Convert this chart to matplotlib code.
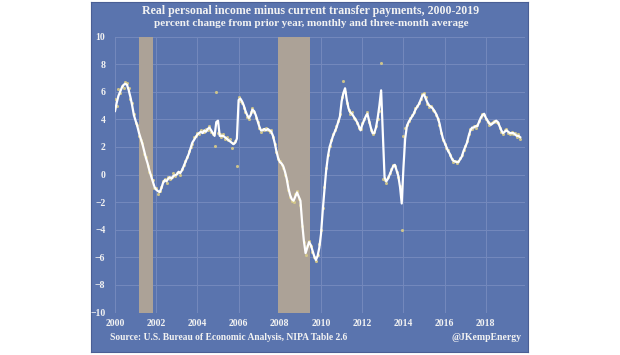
import matplotlib
matplotlib.use("Agg")
import matplotlib.pyplot as plt
import numpy as np

# ---------------- data ----------------
start_year = 2000
# three-month average (white line), monthly from Jan 2000
avg_3m = [
    4.6, 5.2, 5.7, 6.0, 6.3, 6.5, 6.57, 6.5, 6.1, 5.6, 5.0, 4.3,          # 2000
    3.9, 3.5, 3.0, 2.6, 2.2, 1.7, 1.2, 0.8, 0.3, -0.1, -0.5, -0.9,       # 2001
    -1.1, -1.2, -1.28, -1.0, -0.6, -0.4, -0.5, -0.3, -0.2, -0.3, -0.1, -0.05,  # 2002
    0.0, 0.2, 0.1, 0.3, 0.6, 0.9, 1.2, 1.5, 1.9, 2.3, 2.5, 2.7,          # 2003
    2.9, 3.0, 3.1, 3.0, 3.2, 3.1, 3.3, 3.4, 3.2, 3.0, 2.8, 3.8,          # 2004
    3.9, 2.8, 2.8, 2.8, 2.7, 2.6, 2.5, 2.4, 2.3, 2.2, 2.3, 2.6,          # 2005
    5.4, 5.5, 5.3, 5.0, 4.6, 4.3, 4.1, 4.3, 4.7, 4.6, 4.3, 3.9,          # 2006
    3.5, 3.2, 3.2, 3.3, 3.2, 3.3, 3.2, 3.1, 2.8, 2.3, 1.7, 1.2,          # 2007
    0.9, 0.8, 0.6, 0.2, -0.3, -1.0, -1.5, -1.8, -1.9, -1.6, -1.3, -1.6,  # 2008
    -1.9, -3.5, -4.8, -5.7, -5.3, -4.9, -5.1, -5.5, -5.9, -6.2, -5.9, -5.3,  # 2009
    -4.3, -2.6, -1.1, 0.3, 1.3, 2.0, 2.4, 2.8, 3.1, 3.4, 3.8, 4.2,       # 2010
    5.3, 5.9, 6.25, 5.4, 4.8, 4.5, 4.4, 4.2, 4.0, 3.8, 3.5, 3.2,         # 2011
    3.6, 3.9, 4.2, 4.4, 3.9, 3.4, 3.0, 3.0, 3.4, 4.1, 5.0, 6.1,          # 2012
    3.0, -0.2, -0.5, -0.3, 0.0, 0.3, 0.6, 0.7, 0.3, -0.1, -0.9, -2.1,    # 2013
    0.5, 2.6, 3.5, 3.8, 4.0, 4.2, 4.4, 4.7, 4.9, 5.1, 5.4, 5.7,          # 2014
    5.8, 5.5, 5.2, 5.0, 4.9, 4.8, 4.6, 4.4, 4.1, 3.7, 3.1, 2.6,          # 2015
    2.3, 2.0, 1.7, 1.5, 1.2, 1.0, 0.95, 0.9, 0.9, 1.1, 1.3, 1.7,         # 2016
    2.0, 2.3, 2.8, 3.2, 3.4, 3.4, 3.5, 3.5, 3.8, 4.1, 4.3, 4.4,          # 2017
    4.1, 3.9, 3.7, 3.6, 3.7, 3.8, 3.9, 3.8, 3.5, 3.2, 3.0, 3.1,          # 2018
    3.2, 3.1, 3.0, 3.0, 3.0, 2.9, 2.8, 2.8, 2.7,                         # 2019
]
# monthly values (dots)
monthly = [
    5.5, 5.0, 6.2, 5.9, 6.4, 6.3, 6.7, 6.6, 6.3, 5.5, 5.2, 4.4,
    3.7, 3.6, 2.8, 2.5, 2.3, 1.5, 1.3, 0.6, 0.2, 0.0, -0.4, -1.0,
    -1.0, -1.4, -1.2, -0.9, -0.5, -0.3, -0.6, -0.2, -0.3, -0.2, 0.1, -0.1,
    0.1, 0.2, 0.0, 0.4, 0.7, 1.0, 1.3, 1.7, 2.0, 2.2, 2.7, 2.8,
    3.0, 2.9, 3.2, 3.1, 3.1, 3.3, 3.2, 3.5, 3.1, 2.9, 2.1, 6.0,
    3.0, 2.9, 2.7, 2.9, 2.6, 2.7, 2.5, 2.6, 1.9, 2.3, 2.4, 0.6,
    5.6, 5.3, 5.2, 4.8, 4.5, 4.2, 4.0, 4.5, 4.8, 4.5, 4.1, 3.8,
    3.4, 3.1, 3.3, 3.2, 3.4, 3.2, 3.1, 3.2, 2.7, 2.2, 1.6, 1.1,
    1.0, 0.7, 0.5, 0.0, -0.5, -1.1, -1.6, -1.9, -2.0, -1.4, -1.2, -1.8,
    -2.2, -3.7, -4.9, -5.8, -5.2, -4.8, -5.2, -5.6, -6.0, -6.3, -5.8, -5.0,
    -4.0, -2.4, -0.9, 0.5, 1.4, 2.1, 2.5, 2.9, 3.2, 3.5, 3.9, 4.4,
    5.6, 6.8, 6.0, 5.2, 4.7, 4.4, 4.5, 4.1, 4.0, 3.7, 3.4, 3.3,
    3.7, 4.0, 4.3, 4.5, 3.8, 3.2, 2.9, 3.1, 3.5, 4.0, 4.6, 8.1,
    -0.3, -0.4, -0.6, -0.2, 0.1, 0.4, 0.7, 0.6, 0.2, -0.2, -0.8, -4.0,
    2.8, 3.4, 3.6, 3.9, 4.1, 4.3, 4.5, 4.8, 5.0, 5.2, 5.5, 5.8,
    5.9, 5.6, 5.1, 4.9, 5.0, 4.7, 4.6, 4.3, 4.0, 3.6, 3.0, 2.5,
    2.2, 1.9, 1.8, 1.4, 1.1, 0.9, 1.0, 0.8, 1.0, 1.2, 1.4, 1.8,
    2.1, 2.4, 2.9, 3.3, 3.3, 3.5, 3.4, 3.6, 3.9, 4.2, 4.4, 4.3,
    4.0, 3.8, 3.6, 3.7, 3.8, 3.9, 3.8, 3.7, 3.4, 3.1, 2.9, 3.2,
    3.3, 3.0, 2.9, 3.1, 2.9, 3.0, 2.7, 2.9, 2.6,
]
recessions = [(2001.17, 2001.85), (2007.92, 2009.45)]
x_ticks = [2000, 2002, 2004, 2006, 2008, 2010, 2012, 2014, 2016, 2018]
y_ticks = [-10, -8, -6, -4, -2, 0, 2, 4, 6, 8, 10]

title = "Real personal income minus current transfer payments, 2000-2019"
subtitle = "percent change from prior year, monthly and three-month average"
source = "Source: U.S. Bureau of Economic Analysis, NIPA Table 2.6"
handle = "@JKempEnergy"

# ---------------- style ----------------
W, H = 620, 355
panel_c = "#5a74ae"
grid_c = "#7489bd"
band_c = "#aca297"
dot_c = "#d8cb88"
text_c = "#f2f2f2"
serif = ["Liberation Serif", "DejaVu Serif"]

fig = plt.figure(figsize=(W / 100, H / 100), dpi=100, facecolor="white")

# blue background panel as a bare axes behind everything
bg = fig.add_axes([91 / W, 1 - 352 / H, (528 - 91) / W, (352 - 2) / H], zorder=-5)
bg.set_facecolor(panel_c)
bg.set_xticks([])
bg.set_yticks([])
for s in bg.spines.values():
    s.set_color("#4a5f95")
    s.set_linewidth(0.8)

ax = fig.add_axes([115 / W, 1 - 312.5 / H, (525 - 115) / W, (312.5 - 36.5) / H], zorder=1)
ax.set_facecolor(panel_c)
for s in ax.spines.values():
    s.set_visible(False)

x_line = start_year + np.arange(len(avg_3m)) / 12.0
x_dots = start_year + np.arange(len(monthly)) / 12.0

ax.set_xlim(2000, 2019.9)
ax.set_ylim(-10, 10)
ax.set_xticks(x_ticks)
ax.set_yticks(y_ticks)
ax.grid(True, color=grid_c, linewidth=0.7, zorder=1)
ax.set_axisbelow(True)
ax.axvline(2019.9, color=grid_c, linewidth=0.7, zorder=1)

for a, b in recessions:
    ax.axvspan(a, b, color=band_c, zorder=2, linewidth=0)

ax.scatter(x_dots, monthly, s=5, color=dot_c, alpha=0.9, zorder=3, linewidths=0)
ax.plot(x_line, avg_3m, color="white", linewidth=1.6, zorder=4, solid_joinstyle="round")

ax.tick_params(length=0, labelsize=7, labelcolor=text_c)
for lab in ax.get_xticklabels() + ax.get_yticklabels():
    lab.set_fontfamily(serif)
    lab.set_fontweight("bold")
ax.tick_params(axis="y", pad=7)
ax.tick_params(axis="x", pad=5)

fig.text(311 / W, 1 - 11 / H, title, ha="center", va="center", color=text_c,
         fontsize=8.6, fontweight="bold", family=serif)
fig.text(311 / W, 1 - 24 / H, subtitle, ha="center", va="center", color=text_c,
         fontsize=8.0, fontweight="bold", family=serif)
fig.text(110 / W, 1 - 338 / H, source, ha="left", va="center", color=text_c,
         fontsize=6.85, fontweight="bold", family=serif)
fig.text(521 / W, 1 - 338 / H, handle, ha="right", va="center", color=text_c,
         fontsize=7.0, fontweight="bold", family=serif)

fig.savefig("out.png", dpi=100, facecolor="white")
